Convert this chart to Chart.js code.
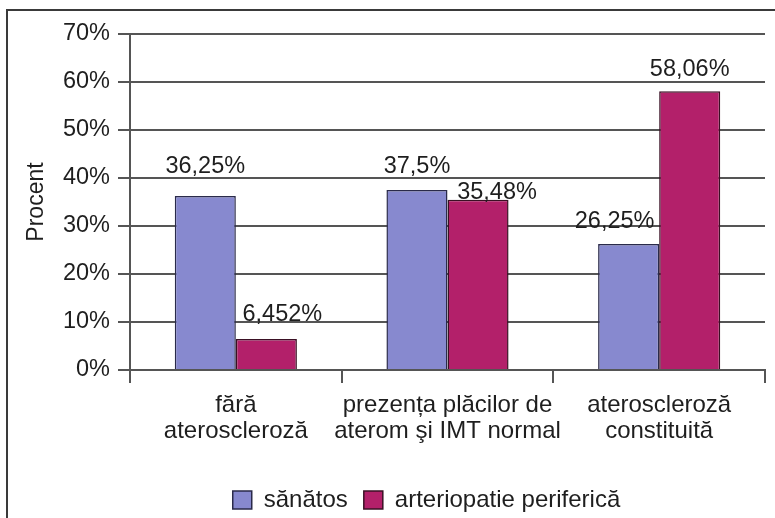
<!DOCTYPE html>
<html>
<head>
<meta charset="utf-8">
<script src="https://cdn.jsdelivr.net/npm/chart.js@4.4.1/dist/chart.umd.min.js"></script>
<style>
  html, body { margin: 0; padding: 0; background: #fff; }
  #wrap { width: 775px; height: 518px; }
</style>
</head>
<body>
<div id="wrap"><canvas id="aterChart" width="775" height="518"></canvas></div>
<script>
// Categories (multi-line labels) and series
const categories = [
    ['fără', 'ateroscleroză'],
    ['prezența plăcilor de', 'aterom şi IMT normal'],
    ['ateroscleroză', 'constituită']
];
const seriesNames = ['sănătos', 'arteriopatie periferică'];
const healthyValues = [36.25, 37.5, 26.25];
const arteriopathyValues = [6.452, 35.48, 58.06];

// Y axis range (percent)
const yMin = 0;
const yMax = 70;
const yStep = 10;

// Per-bar nudges for the value labels: [dx, gap above bar top]
const labelShift = [
    [[0, 23], [0, 17], [-14, 16]],
    [[16, 18], [19, 1], [0, 15]]
];

const fontFamily = "'Liberation Sans', Arial, sans-serif";
const textColor = '#1e1e1e';
const gridColor = '#555';

// Format a value the Romanian way: 36.25 -> "36,25%"
function formatPercent(v) {
    return String(v).replace('.', ',') + '%';
}

// Draw white background and the frame (left + top edges)
const framePlugin = {
    id: 'frame',
    beforeDraw(chart) {
        const ctx = chart.ctx;
        ctx.save();
        ctx.fillStyle = '#fff';
        ctx.fillRect(0, 0, chart.width, chart.height);
        ctx.strokeStyle = '#3a3a3a';
        ctx.lineWidth = 2;
        ctx.beginPath();
        ctx.moveTo(7, chart.height);
        ctx.lineTo(7, 10);
        ctx.lineTo(chart.width, 10);
        ctx.stroke();
        ctx.restore();
    }
};

// Move legend a bit right/down
const legendShiftPlugin = {
    id: 'legendShift',
    afterLayout(chart) {
        const lg = chart.legend;
        if (!lg) return;
        lg.left += 40;
        lg.right += 40;
        lg.top += 4;
        lg.bottom += 4;
    }
};

// Value labels above each bar
const valueLabelPlugin = {
    id: 'valueLabels',
    afterDatasetsDraw(chart) {
        const ctx = chart.ctx;
        ctx.save();
        ctx.font = '23.5px ' + fontFamily;
        ctx.fillStyle = textColor;
        ctx.textAlign = 'center';
        ctx.textBaseline = 'alphabetic';
        chart.data.datasets.forEach((ds, i) => {
            const meta = chart.getDatasetMeta(i);
            meta.data.forEach((bar, j) => {
                const [dx, gap] = labelShift[i][j];
                ctx.fillText(formatPercent(ds.data[j]), bar.x + dx, bar.y - gap);
            });
        });
        ctx.restore();
    }
};

const ctx = document.getElementById('aterChart').getContext('2d');
new Chart(ctx, {
    type: 'bar',
    data: {
        labels: categories,
        datasets: [
            {
                label: seriesNames[0],
                data: healthyValues,
                backgroundColor: '#8789cf',
                borderColor: '#2a2a4a',
                borderWidth: 1.5,
                borderSkipped: 'bottom'
            },
            {
                label: seriesNames[1],
                data: arteriopathyValues,
                backgroundColor: '#b3206a',
                borderColor: '#3a1024',
                borderWidth: 1.5,
                borderSkipped: 'bottom'
            }
        ]
    },
    options: {
        responsive: false,
        animation: false,
        devicePixelRatio: 1,
        categoryPercentage: 0.577,
        barPercentage: 1,
        layout: {
            padding: { left: 8, right: 10, top: 34, bottom: 0 }
        },
        plugins: {
            legend: {
                display: true,
                position: 'bottom',
                labels: {
                    boxWidth: 19,
                    boxHeight: 18,
                    padding: 16,
                    color: textColor,
                    font: { family: fontFamily, size: 24 }
                }
            },
            tooltip: { enabled: false }
        },
        scales: {
            x: {
                offset: true,
                afterFit(scale) {
                    scale.height = 98;
                },
                grid: {
                    offset: true,
                    drawOnChartArea: false,
                    drawTicks: true,
                    tickLength: 13,
                    color: gridColor,
                    lineWidth: 2
                },
                border: { display: true, color: gridColor, width: 2 },
                ticks: {
                    color: textColor,
                    padding: 9,
                    maxRotation: 0,
                    autoSkip: false,
                    font: { family: fontFamily, size: 24, lineHeight: 1.08 }
                }
            },
            y: {
                min: yMin,
                max: yMax,
                afterFit(scale) {
                    scale.width = 122;
                },
                title: {
                    display: true,
                    text: 'Procent',
                    color: textColor,
                    padding: { top: 15, bottom: 0 },
                    font: { family: fontFamily, size: 23 }
                },
                grid: {
                    color: gridColor,
                    lineWidth: 2,
                    drawTicks: true,
                    tickLength: 12
                },
                border: { display: true, color: gridColor, width: 2 },
                ticks: {
                    stepSize: yStep,
                    padding: 8,
                    color: textColor,
                    font: { family: fontFamily, size: 23.5 },
                    callback: value => value + '%'
                }
            }
        }
    },
    plugins: [framePlugin, legendShiftPlugin, valueLabelPlugin]
});
</script>
</body>
</html>
